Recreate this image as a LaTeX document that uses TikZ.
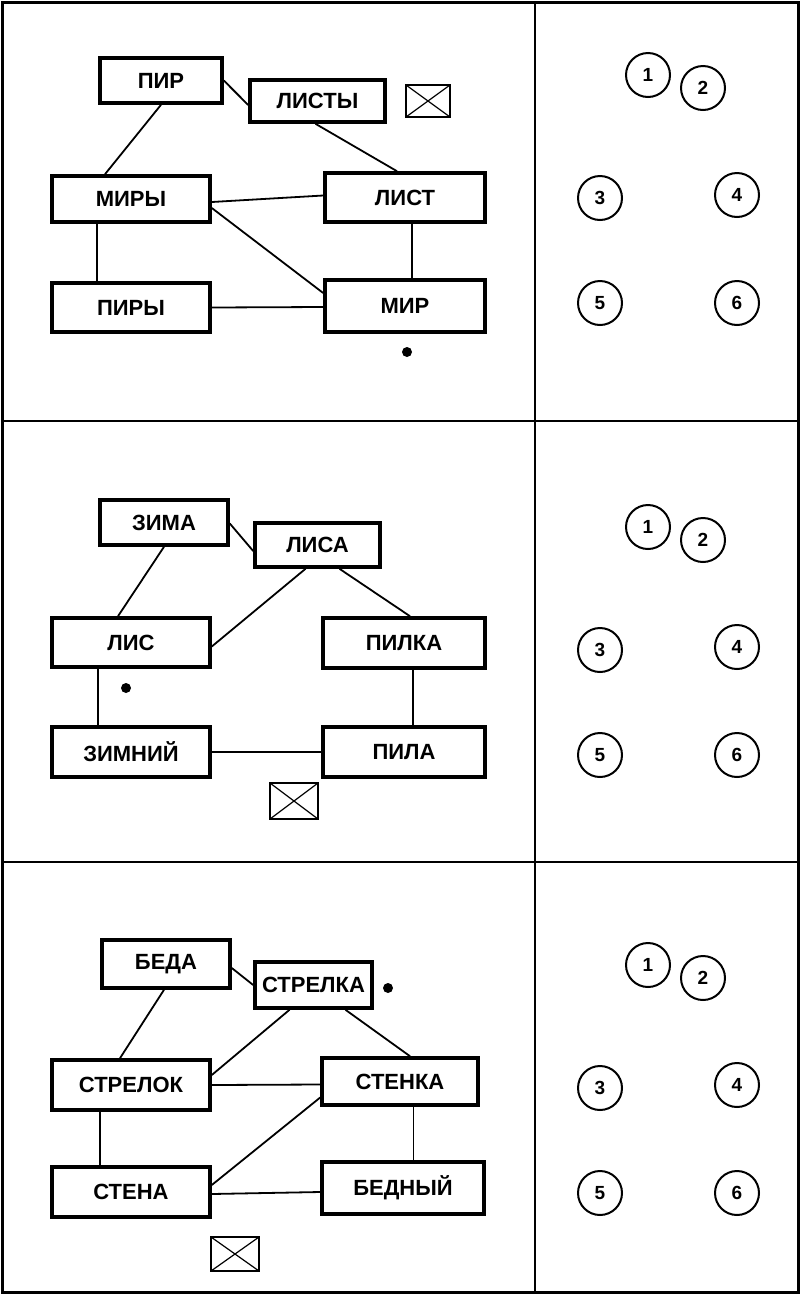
\documentclass[tikz,border=0pt]{standalone}
\usepackage{fontspec}
\setmainfont{Liberation Sans}
\begin{document}
\begin{tikzpicture}[x=1pt,y=-1pt,
  wbox/.style={draw,line width=3.6pt,font=\bfseries\fontsize{22}{24}\selectfont,inner sep=0pt},
  xbox/.style={draw,line width=2pt,minimum width=44pt,minimum height=32pt,inner sep=0pt,
     path picture={\draw[line width=1.2pt] (path picture bounding box.north west)--(path picture bounding box.south east) (path picture bounding box.south west)--(path picture bounding box.north east);}},
  num/.style={draw,circle,line width=2pt,minimum size=44pt,inner sep=0pt,font=\bfseries\fontsize{19}{20}\selectfont},
  ln/.style={line width=1.8pt},
  dotc/.style={fill,circle,inner sep=0pt,minimum size=10pt}]
\useasboundingbox (0,0) rectangle (800,1294);
\draw[line width=3pt] (2,2) rectangle (798,1292);
\draw[line width=2.4pt] (535,2)--(535,1292) (2,421)--(798,421) (2,862)--(798,862);
\newcommand{\bx}[6]{\node[wbox,minimum width=#4-#2,minimum height=#5-#3] (#1) at ({(#2+#4)/2},{(#3+#5)/2}) {#6};}
% panel 1
\bx{pir}{100}{58}{222}{103}{ПИР}
\bx{listy}{250}{80}{385}{122}{ЛИСТЫ}
\node[xbox] (x1) at (428,101) {};
\bx{miry}{52}{176}{210}{222}{МИРЫ}
\bx{list}{325}{173}{485}{222}{ЛИСТ}
\bx{piry}{52}{283}{210}{332}{ПИРЫ}
\bx{mir}{325}{280}{485}{332}{МИР}
\node[dotc] (d1) at (407,352) {};
\draw[ln] (pir.east)--([yshift=-4]listy.west);
\draw[ln] ([xshift=0]pir.south)--([xshift=-26]miry.north);
\draw[ln] ([xshift=-2]listy.south)--([xshift=-8]list.north);
\draw[ln] ([yshift=-3]miry.east)--([yshift=2]list.west);
\draw[ln] ([yshift=-9]miry.east)--([yshift=13]mir.west);
\draw[ln] ([xshift=7]list.south)--([xshift=7]mir.north);
\draw[ln] ([xshift=-34]miry.south)--([xshift=-34]piry.north);
\draw[ln] (piry.east)--([yshift=-1]mir.west);
% panel 2
\bx{zima}{100}{500}{228}{545}{ЗИМА}
\bx{lisa}{255}{523}{380}{567}{ЛИСА}
\bx{lis}{52}{618}{210}{667}{ЛИС}
\bx{pilka}{323}{618}{485}{668}{ПИЛКА}
\bx{zimniy}{52}{727}{210}{777}{ЗИМНИЙ}
\bx{pila}{323}{727}{485}{777}{ПИЛА}
\node[xbox,minimum width=48pt,minimum height=36pt] (x2) at (294,801) {};
\node[dotc] (d2) at (126,688) {};
\draw[ln] ([yshift=-1]zima.east)--([yshift=-6]lisa.west);
\draw[ln] (zima.south)--([xshift=-13]lis.north);
\draw[ln] ([xshift=-12]lisa.south)--([yshift=-4]lis.east);
\draw[ln] ([xshift=22]lisa.south)--([xshift=6]pilka.north);
\draw[ln] ([xshift=-33]lis.south)--([xshift=-33]zimniy.north);
\draw[ln] ([xshift=9]pilka.south)--([xshift=9]pila.north);
\draw[ln] (zimniy.east)--(pila.west);
% panel 3
\bx{beda}{102}{940}{230}{988}{БЕДА}
\bx{strelka}{255}{962}{372}{1008}{СТРЕЛКА}
\node[dotc] (d3) at (388,988) {};
\bx{strelok}{52}{1060}{210}{1110}{СТРЕЛОК}
\bx{stenka}{322}{1058}{478}{1105}{СТЕНКА}
\bx{stena}{52}{1167}{210}{1217}{СТЕНА}
\bx{bedny}{322}{1162}{484}{1214}{БЕДНЫЙ}
\node[xbox,minimum width=48pt,minimum height=34pt] (x3) at (235,1254) {};
\draw[ln] ([yshift=-4]beda.east)--([yshift=0]strelka.west);
\draw[ln] ([xshift=-2]beda.south)--([xshift=-11]strelok.north);
\draw[ln] ([xshift=-24]strelka.south)--([yshift=10]strelok.east);
\draw[ln] ([xshift=32]strelka.south)--([xshift=10]stenka.north);
\draw[ln] (strelok.east)--([yshift=-3]stenka.west);
\draw[ln] ([yshift=7]stena.east)--([yshift=-16]stenka.west);
\draw[ln] ([xshift=-31]strelok.south)--([xshift=-31]stena.north);
\draw[line width=1pt] ([xshift=13]stenka.south)--([xshift=10]bedny.north);
\draw[ln] ([yshift=-2]stena.east)--([yshift=-4]bedny.west);
% circles
\foreach \p/\dy in {a/0,b/452,c/890}{
 \node[num] (\p1) at (648,{75+\dy}) {1};
 \node[num] (\p2) at (703,{88+\dy}) {2};
 \node[num] (\p3) at (600,{198+\dy}) {3};
 \node[num] (\p4) at (737,{195+\dy}) {4};
 \node[num] (\p5) at (600,{303+\dy}) {5};
 \node[num] (\p6) at (737,{303+\dy}) {6};
}
\end{tikzpicture}
\end{document}
